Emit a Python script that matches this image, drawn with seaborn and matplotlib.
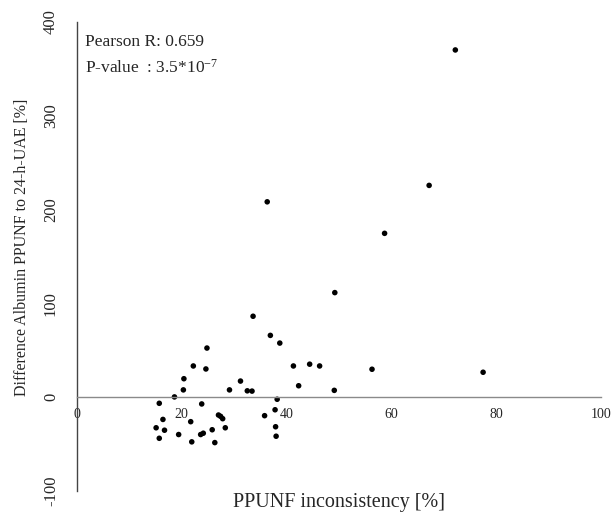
import matplotlib
matplotlib.use("Agg")
import matplotlib.pyplot as plt
import seaborn as sns
import pandas as pd

inconsistency = [72.2, 67.2, 58.7, 36.3, 49.2, 33.6, 36.9, 38.7, 24.8, 22.2,
                 24.6, 41.3, 44.4, 46.3, 56.3, 77.5, 20.4, 31.2, 20.3, 29.1,
                 32.5, 33.4, 42.3, 49.1, 18.6, 15.7, 23.8, 38.2, 16.4, 21.7,
                 27.0, 27.4, 27.8, 35.8, 37.8, 15.1, 16.7, 19.4, 23.6, 24.1,
                 25.8, 28.3, 37.9, 15.7, 21.9, 26.3, 38.0]
difference = [370.2, 225.8, 174.7, 208.3, 111.5, 86.3, 65.9, 57.7, 52.4, 33.3,
              30.1, 33.3, 35.2, 33.3, 29.8, 26.6, 19.7, 17.2, 7.8, 7.8,
              6.8, 6.5, 12.2, 7.3, 0.3, -6.5, -7.2, -2.2, -23.7, -26.1,
              -19.0, -20.4, -22.9, -19.7, -13.4, -32.6, -35.2, -39.8, -39.8, -38.4,
              -34.7, -32.6, -31.5, -43.8, -47.6, -48.4, -41.6]
x_ticks = [0, 20, 40, 60, 80, 100]
y_ticks = [-100, 0, 100, 200, 300, 400]

df = pd.DataFrame({"x": inconsistency, "y": difference})

sns.set_style("white")
plt.rcParams["font.family"] = ["Liberation Serif", "DejaVu Serif"]
plt.rcParams["mathtext.default"] = "regular"

fig = plt.figure(figsize=(6.16, 5.12), dpi=100)
ax = fig.add_axes([77/616, 1 - 491/512, (601 - 77)/616, (491 - 22)/512])

sns.scatterplot(data=df, x="x", y="y", color="black", s=16, edgecolor="none",
                ax=ax, legend=False)

ax.set_xlim(0, 100)
ax.set_ylim(-100, 400)
ax.set_xticks(x_ticks)
ax.set_yticks(y_ticks)
ax.set_xticklabels([str(t) for t in x_ticks], fontsize=12)
ax.set_yticklabels([str(t) for t in y_ticks], fontsize=12, rotation=90, va="center")

for s in ["top", "right"]:
    ax.spines[s].set_visible(False)
ax.spines["bottom"].set_position(("data", 0))
ax.spines["bottom"].set_color("#8a8a8a")
ax.spines["left"].set_color("#444444")
ax.spines["bottom"].set_linewidth(1.0)
ax.spines["left"].set_linewidth(1.0)
ax.tick_params(axis="x", direction="out", length=3, width=1, color="#8a8a8a", pad=5)
ax.tick_params(axis="y", direction="out", length=4, width=1, color="#444444", pad=9)

ax.set_xlabel("PPUNF inconsistency [%]", fontsize=14.5)
ax.xaxis.label.set_va("center")
ax.xaxis.set_label_coords(0.5, -(502 - 491)/469)
ax.set_ylabel("Difference Albumin PPUNF to 24-h-UAE [%]", fontsize=11.5)
ax.yaxis.set_label_coords(-(77 - 30)/524, (491 - 247.5)/469)

ax.text(8/524*100, 400 - 20/0.938, "Pearson R: 0.659", fontsize=12.5, va="center", ha="left")
ax.text(8/524*100, 400 - 46/0.938, "P-value  : 3.5*10$^{-7}$", fontsize=12.5, va="center", ha="left")

fig.savefig("out.png", dpi=100)
